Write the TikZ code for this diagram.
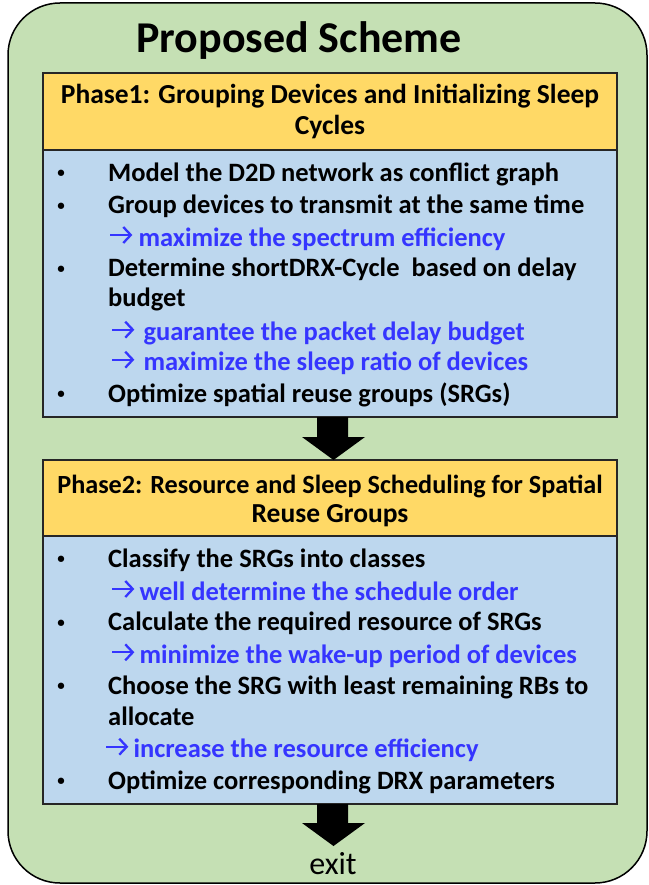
\documentclass[tikz,border=0pt]{standalone}
\usepackage{fontspec}
\setmainfont{Carlito}
\usetikzlibrary{calc,arrows.meta}
\definecolor{bggreen}{HTML}{C5E0B4}
\definecolor{hdorange}{HTML}{FFD966}
\definecolor{bdblue}{HTML}{BDD7EE}
\definecolor{boxline}{HTML}{262626}
\definecolor{arrowblue}{HTML}{3535FF}
\tikzset{
  frame/.style={draw=black, line width=1.5pt, fill=bggreen, rounded corners=52pt, inner sep=0pt, outer sep=0pt},
  box/.style={draw=boxline, line width=1.3pt, inner sep=0pt, outer sep=0pt, minimum width=574pt},
  headbox/.style={box, fill=hdorange, minimum height=77pt},
  bodybox/.style={box, fill=bdblue},
  titletxt/.style={anchor=base west, inner sep=0pt, font=\bfseries\fontsize{44}{50}\selectfont},
  headtxt/.style={anchor=base, inner sep=0pt, font=\bfseries\fontsize{27.5}{32}\selectfont},
  bodytxt/.style={anchor=base west, inner sep=0pt, font=\bfseries\fontsize{26.5}{32}\selectfont},
  bluetxt/.style={bodytxt, text=arrowblue},
  bul/.style={anchor=base, inner sep=0pt, font=\bfseries\fontsize{15}{18}\selectfont},
  blockarrow/.style={fill=black},
  exittxt/.style={anchor=base, inner sep=0pt, font=\fontsize{32}{38}\selectfont}
}
\newcommand{\rarr}{\tikz[baseline=-11pt]\draw[draw=arrowblue, line width=2.3pt, -{Straight Barb[length=7.5pt,width=16pt,line width=2.3pt]}] (0,0) -- (22pt,0);}
\begin{document}
\begin{tikzpicture}[x=1pt,y=-1pt]
\useasboundingbox (0,0) rectangle (648,885);
% outer frame
\node[frame, minimum width=639pt, minimum height=880pt] (outer) at (327.5,443) {};
\node[titletxt] (title) at (136,53) {Proposed Scheme};

% Phase 1
\node[headbox] (p1head) at (330,111.5) {};
\node[bodybox, minimum height=267pt] (p1body) at (330,283.5) {};
\node[headtxt] (p1h1) at (330,103.3) {Phase1: Grouping Devices and Initializing Sleep};
\node[headtxt] (p1h2) at (330,135) {Cycles};

\node[bul] (b11) at (61,178) {•};
\node[bodytxt] (t11) at (108,181.7) {Model the D2D network as conflict graph};
\node[bul] (b12) at (61,210.3) {•};
\node[bodytxt] (t12) at (108,214) {Group devices to transmit at the same time};
\node[bluetxt] (a12) at (109,246) {\rarr\hspace{5pt}maximize the spectrum efficiency};
\node[bul] (b13) at (61,273) {•};
\node[bodytxt] (t13) at (108,276.7) {Determine shortDRX-Cycle\ \ based on delay};
\node[bodytxt] (t13b) at (108,306.7) {budget};
\node[bluetxt] (a13) at (111,340.7) {\rarr\hspace{8pt}guarantee the packet delay budget};
\node[bluetxt] (a13b) at (111,370.7) {\rarr\hspace{8pt}maximize the sleep ratio of devices};
\node[bul] (b14) at (61,398.6) {•};
\node[bodytxt] (t14) at (108,402.3) {Optimize spatial reuse groups (SRGs)};

% Phase 2
\node[headbox, minimum height=76pt] (p2head) at (330,498) {};
\node[bodybox, minimum height=268pt] (p2body) at (330,670) {};
\node[headtxt, font=\bfseries\fontsize{26.2}{32}\selectfont] (p2h1) at (330,493.3) {Phase2: Resource and Sleep Scheduling for Spatial};
\node[headtxt] (p2h2) at (330,522.7) {Reuse Groups};

\node[bul] (b21) at (61,563.6) {•};
\node[bodytxt] (t21) at (108,567.3) {Classify the SRGs into classes};
\node[bluetxt] (a21) at (111,600) {\rarr\hspace{4pt}well determine the schedule order};
\node[bul] (b22) at (61,627) {•};
\node[bodytxt] (t22) at (108,630.7) {Calculate the required resource of SRGs};
\node[bluetxt] (a22) at (111,663.3) {\rarr\hspace{4pt}minimize the wake-up period of devices};
\node[bul] (b23) at (61,690.3) {•};
\node[bodytxt] (t23) at (108,694) {Choose the SRG with least remaining RBs to};
\node[bodytxt] (t23b) at (108,725.7) {allocate};
\node[bluetxt] (a23) at (105,757.7) {\rarr\hspace{4pt}increase the resource efficiency};
\node[bul] (b24) at (61,785.3) {•};
\node[bodytxt] (t24) at (108,789) {Optimize corresponding DRX parameters};

% exit
\node[exittxt] (exit) at (333,874) {exit};
\coordinate (exittip) at (333.5,846);

% block arrows
\fill[blockarrow] ($(p1body.south)+(-13,0)$) -- ++(0,20) -- ++(-15,0)
  -- ($(p2head.north)+(3.5,0)$) -- ($(p1body.south)+(35,20)$) -- ++(-17,0) -- ++(0,-20) -- cycle;
\fill[blockarrow] ($(p2body.south)+(-13,0)$) -- ++(0,19) -- ++(-15,0)
  -- (exittip) -- ($(p2body.south)+(35,19)$) -- ++(-17,0) -- ++(0,-19) -- cycle;
\end{tikzpicture}
\end{document}
